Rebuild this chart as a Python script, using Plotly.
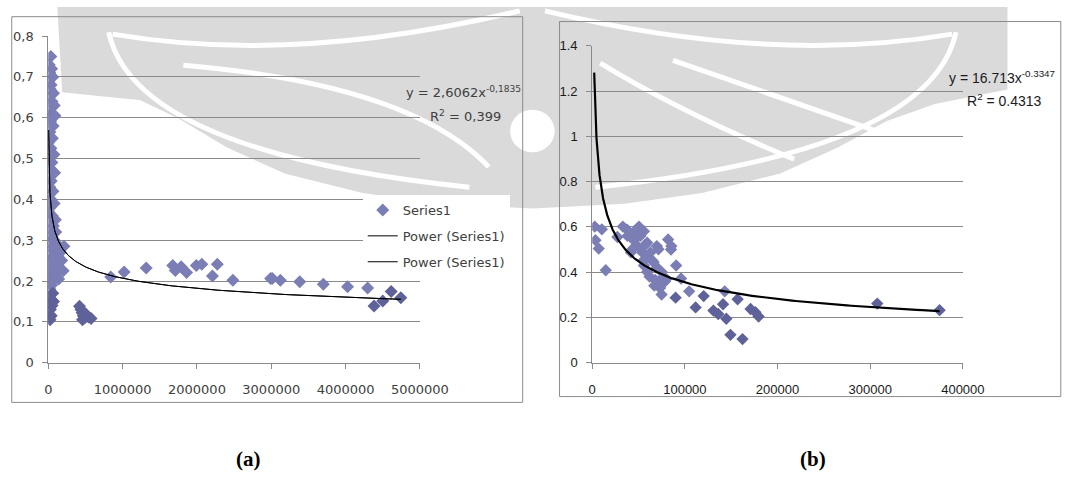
import numpy as np
import plotly.graph_objects as go

W, H = 1083, 485

# ---------------- data: chart (a) ----------------
a_x = [34000, 12000, 45000, 20000, 60000, 8000, 38000, 25000, 70000, 5000,
       50000, 80000, 15000, 42000, 90000, 10000, 30000, 65000, 22000, 55000,
       3000, 35000, 75000, 12000, 48000, 28000, 85000, 6000, 40000, 18000,
       62000, 10000, 32000, 78000, 24000, 4000, 52000, 95000, 14000, 68000,
       30000, 100000, 8000, 58000, 80000, 20000, 120000, 72000, 210000, 40000,
       90000, 160000, 12000, 60000, 130000, 50000, 180000, 26000, 100000, 4000,
       70000, 150000, 200000, 36000, 110000, 65000, 16000, 85000, 140000, 55000,
       6000, 45000, 22000, 60000, 10000, 35000, 70000, 14000, 50000, 28000,
       4000, 40000, 12000, 24000,
       420000, 440000, 455000, 470000, 490000, 510000, 540000, 575000, 460000,
       840000, 1020000, 1317000, 1674000, 1709000, 1787000, 1860000, 1991000,
       2065000, 2208000, 2274000, 2483000, 2991000, 3013000, 3122000, 3383000,
       3700000, 4026000, 4296000, 4383000, 4500000, 4613000, 4743000]
a_y = [0.75, 0.73, 0.72, 0.71, 0.70, 0.69, 0.68, 0.67, 0.66, 0.65,
       0.64, 0.63, 0.62, 0.61, 0.605, 0.60, 0.59, 0.58, 0.565, 0.55,
       0.54, 0.525, 0.51, 0.50, 0.49, 0.475, 0.465, 0.455, 0.445, 0.43,
       0.42, 0.41, 0.40, 0.39, 0.38, 0.37, 0.36, 0.35, 0.345, 0.335,
       0.325, 0.32, 0.31, 0.305, 0.30, 0.295, 0.29, 0.285, 0.285, 0.28,
       0.275, 0.27, 0.265, 0.26, 0.26, 0.255, 0.25, 0.245, 0.24, 0.235,
       0.235, 0.23, 0.225, 0.225, 0.22, 0.215, 0.21, 0.21, 0.205, 0.20,
       0.195, 0.19, 0.18, 0.17, 0.16, 0.155, 0.15, 0.145, 0.14, 0.13,
       0.12, 0.115, 0.11, 0.105,
       0.138, 0.13, 0.122, 0.115, 0.11, 0.118, 0.112, 0.108, 0.105,
       0.21, 0.222, 0.232, 0.238, 0.226, 0.235, 0.221, 0.238,
       0.241, 0.212, 0.241, 0.202, 0.206, 0.206, 0.202, 0.198,
       0.192, 0.186, 0.183, 0.139, 0.151, 0.174, 0.159]
a_coef, a_exp = 2.6062, -0.1835
a_eq = "y = 2,6062x<sup>-0,1835</sup>"
a_r2 = "R<sup>2</sup> = 0,399"
a_xticks = [0, 1000000, 2000000, 3000000, 4000000, 5000000]
a_yticks = [0, 0.1, 0.2, 0.3, 0.4, 0.5, 0.6, 0.7, 0.8]
a_yticklabels = ["0", "0,1", "0,2", "0,3", "0,4", "0,5", "0,6", "0,7", "0,8"]

# ---------------- data: chart (b) ----------------
b_x = [2750, 3500, 7000, 10400, 14600, 27200, 33100, 37700, 44600, 50500,
       55800, 41800, 48800, 54000, 59300, 62800, 55800, 59300, 66200, 71500,
       69700, 68000, 73200, 74900, 78500, 81900, 85400, 90600, 90000, 95900,
       104600, 111600, 120300, 130800, 136000, 143000, 141200, 144700, 149200, 156900,
       162200, 170900, 176100, 179600, 307600, 374900,
       38000, 45000, 52000, 57000, 48000, 43000, 60000, 65000, 55000, 70000,
       62000, 75000, 80000, 85000, 67000, 72000]
b_y = [0.601, 0.541, 0.504, 0.589, 0.408, 0.555, 0.601, 0.587, 0.572, 0.601,
       0.58, 0.487, 0.515, 0.487, 0.53, 0.487, 0.429, 0.401, 0.444, 0.501,
       0.515, 0.365, 0.33, 0.301, 0.358, 0.544, 0.515, 0.429, 0.287, 0.372,
       0.315, 0.244, 0.294, 0.23, 0.215, 0.315, 0.258, 0.194, 0.123, 0.28,
       0.104, 0.237, 0.223, 0.204, 0.261, 0.232,
       0.56, 0.54, 0.56, 0.52, 0.59, 0.50, 0.47, 0.45, 0.45, 0.42,
       0.38, 0.40, 0.37, 0.50, 0.34, 0.36]
b_coef, b_exp = 16.713, -0.3347
b_eq = "y = 16.713x<sup>-0.3347</sup>"
b_r2 = "R<sup>2</sup> = 0.4313"
b_xticks = [0, 100000, 200000, 300000, 400000]
b_yticks = [0, 0.2, 0.4, 0.6, 0.8, 1.0, 1.2, 1.4]
b_yticklabels = ["0", "0.2", "0.4", "0.6", "0.8", "1", "1.2", "1.4"]

# ---------------- styling ----------------
LIGHT = "#7b7eb4"
DARK = "#5f6299"
GRID = "#8a8a8a"
WM = "#dadada"
FONT_A = dict(family="DejaVu Sans, Verdana, sans-serif", size=13, color="#404040")
FONT_B = dict(family="Liberation Sans Narrow, Arial Narrow, Liberation Sans, Arial", size=13, color="#1a1a1a")
FONT_B_EQ = dict(family="Liberation Sans Narrow, Arial Narrow, Liberation Sans, Arial", size=14, color="#1a1a1a")


def px_x(p):
    return p / W


def px_y(p):
    return 1 - p / H


def P(x, y):
    return f"{px_x(x):.4f},{px_y(y):.4f}"


def wm_fill(pts, color=WM):
    s = "M " + " L ".join(P(x, y) for x, y in pts) + " Z"
    return dict(type="path", xref="paper", yref="paper", path=s,
                fillcolor=color, line=dict(width=0), layer="below")


def wm_curve(p0, c, p1, width=5, color="white"):
    s = f"M {P(*p0)} Q {P(*c)} {P(*p1)}"
    return dict(type="path", xref="paper", yref="paper", path=s,
                line=dict(width=width, color=color), layer="below")


def mx(p, cx=545):
    return (2 * cx - p[0], p[1])


fig = go.Figure()

# chart (a) points
ax_l = [x for x, y in zip(a_x, a_y) if y >= 0.18]
ay_l = [y for x, y in zip(a_x, a_y) if y >= 0.18]
ax_d = [x for x, y in zip(a_x, a_y) if y < 0.18]
ay_d = [y for x, y in zip(a_x, a_y) if y < 0.18]
fig.add_trace(go.Scatter(x=ax_l, y=ay_l, mode="markers", name="Series1",
                         marker=dict(symbol="diamond", size=10, color=LIGHT),
                         xaxis="x", yaxis="y", legendgroup="g1"))
fig.add_trace(go.Scatter(x=ax_d, y=ay_d, mode="markers", name="Series1", showlegend=False,
                         marker=dict(symbol="diamond", size=10, color=DARK),
                         xaxis="x", yaxis="y", legendgroup="g1"))
a_tx = np.geomspace(3960, max(a_x), 300)
a_ty = a_coef * a_tx ** a_exp
fig.add_trace(go.Scatter(x=a_tx, y=a_ty, mode="lines", name="Power (Series1)",
                         line=dict(color="black", width=1), xaxis="x", yaxis="y",
                         legendgroup="g2"))
fig.add_trace(go.Scatter(x=a_tx, y=a_ty, mode="lines", name="Power (Series1)",
                         line=dict(color="black", width=1), xaxis="x", yaxis="y",
                         legendgroup="g3"))

# chart (b) points
bx_l = [x for x, y in zip(b_x, b_y) if y >= 0.3]
by_l = [y for x, y in zip(b_x, b_y) if y >= 0.3]
bx_d = [x for x, y in zip(b_x, b_y) if y < 0.3]
by_d = [y for x, y in zip(b_x, b_y) if y < 0.3]
fig.add_trace(go.Scatter(x=bx_l, y=by_l, mode="markers", showlegend=False,
                         marker=dict(symbol="diamond", size=9.5, color=LIGHT),
                         xaxis="x2", yaxis="y2"))
fig.add_trace(go.Scatter(x=bx_d, y=by_d, mode="markers", showlegend=False,
                         marker=dict(symbol="diamond", size=9.5, color=DARK),
                         xaxis="x2", yaxis="y2"))
b_tx = np.geomspace(2150, max(b_x), 300)
b_ty = b_coef * b_tx ** b_exp
fig.add_trace(go.Scatter(x=b_tx, y=b_ty, mode="lines", showlegend=False,
                         line=dict(color="black", width=2.2), xaxis="x2", yaxis="y2"))

axis_common = dict(showline=True, linecolor=GRID, linewidth=1, ticks="outside",
                   ticklen=5, tickcolor=GRID, zeroline=False, fixedrange=True)

# decorative background emblem (page watermark)
bowl = [(55, 0), (1035, 0), (1035, 85), (1000, 92), (960, 100), (910, 118), (860, 145),
        (800, 172), (720, 192), (640, 203), (545, 208), (450, 203), (370, 192),
        (290, 172), (230, 145), (180, 115), (140, 96), (100, 92), (60, 88)]
watermark = [wm_fill(bowl)]
arcs = [((112, 28), (300, 60), (532, 4)),
        ((108, 26), (135, 150), (480, 186)),
        ((185, 60), (420, 80), (500, 165))]
for p0, c, p1 in arcs:
    watermark.append(wm_curve(p0, c, p1))
for p0, c, p1 in arcs[:2]:
    watermark.append(wm_curve(mx(p0), mx(c), mx(p1)))
watermark.append(wm_curve((615, 58), (700, 110), (815, 157)))
watermark.append(wm_curve((690, 55), (790, 90), (900, 128)))
watermark.append(dict(type="circle", xref="paper", yref="paper",
                      x0=px_x(522), x1=px_x(568), y0=px_y(150), y1=px_y(106),
                      fillcolor="white", line=dict(width=0), layer="below"))

fig.update_layout(
    width=W, height=H,
    margin=dict(l=0, r=0, t=0, b=0),
    paper_bgcolor="white", plot_bgcolor="rgba(0,0,0,0)",
    showlegend=True,
    legend=dict(x=px_x(370), y=px_y(194), xanchor="left", yanchor="top",
                bgcolor="white", borderwidth=0, font=FONT_A,
                traceorder="grouped", tracegroupgap=6),
    xaxis=dict(domain=[px_x(45.7), px_x(429)], range=[0, 5000000],
               tickvals=a_xticks, ticktext=[str(v) for v in a_xticks],
               showgrid=False, tickfont=FONT_A, anchor="y", ticklabelstandoff=10,
               **axis_common),
    yaxis=dict(domain=[px_y(367), px_y(30)], range=[0, 0.8],
               tickvals=a_yticks, ticktext=a_yticklabels,
               showgrid=True, gridcolor=GRID, gridwidth=1, tickfont=FONT_A,
               anchor="x", ticklabelstandoff=6, **axis_common),
    xaxis2=dict(domain=[px_x(606.7), px_x(989)], range=[0, 400000],
                tickvals=b_xticks, ticktext=[str(v) for v in b_xticks],
                showgrid=False, tickfont=FONT_B, anchor="y2", ticklabelstandoff=10,
                **axis_common),
    yaxis2=dict(domain=[px_y(367), px_y(40)], range=[0, 1.4],
                tickvals=b_yticks, ticktext=b_yticklabels,
                showgrid=True, gridcolor=GRID, gridwidth=1, tickfont=FONT_B,
                anchor="x2", ticklabelstandoff=6, **axis_common),
    shapes=watermark + [
        dict(type="rect", xref="paper", yref="paper", x0=px_x(8), x1=px_x(535),
             y0=px_y(408), y1=px_y(10), line=dict(color="#8c8c8c", width=1), layer="below"),
        dict(type="rect", xref="paper", yref="paper", x0=px_x(573), x1=px_x(1090),
             y0=px_y(402), y1=px_y(15), line=dict(color="#8c8c8c", width=1), layer="below"),
    ],
    annotations=[
        dict(text=a_eq, xref="paper", yref="paper", x=px_x(413), y=px_y(88),
             xanchor="left", yanchor="middle", showarrow=False, font=FONT_A),
        dict(text=a_r2, xref="paper", yref="paper", x=px_x(437), y=px_y(112),
             xanchor="left", yanchor="middle", showarrow=False, font=FONT_A),
        dict(text=b_eq, xref="paper", yref="paper", x=px_x(973), y=px_y(72),
             xanchor="left", yanchor="middle", showarrow=False, font=FONT_B_EQ),
        dict(text=b_r2, xref="paper", yref="paper", x=px_x(991), y=px_y(96),
             xanchor="left", yanchor="middle", showarrow=False, font=FONT_B_EQ),
        dict(text="<b>(a)</b>", xref="paper", yref="paper", x=px_x(252), y=px_y(466),
             xanchor="center", yanchor="middle", showarrow=False,
             font=dict(family="Liberation Serif, Times New Roman, serif", size=21, color="black")),
        dict(text="<b>(b)</b>", xref="paper", yref="paper", x=px_x(834), y=px_y(466),
             xanchor="center", yanchor="middle", showarrow=False,
             font=dict(family="Liberation Serif, Times New Roman, serif", size=21, color="black")),
    ],
)

fig.write_html("out.html", config={"displayModeBar": False},
               post_script="document.body.style.margin='0';document.body.style.overflow='hidden';")
